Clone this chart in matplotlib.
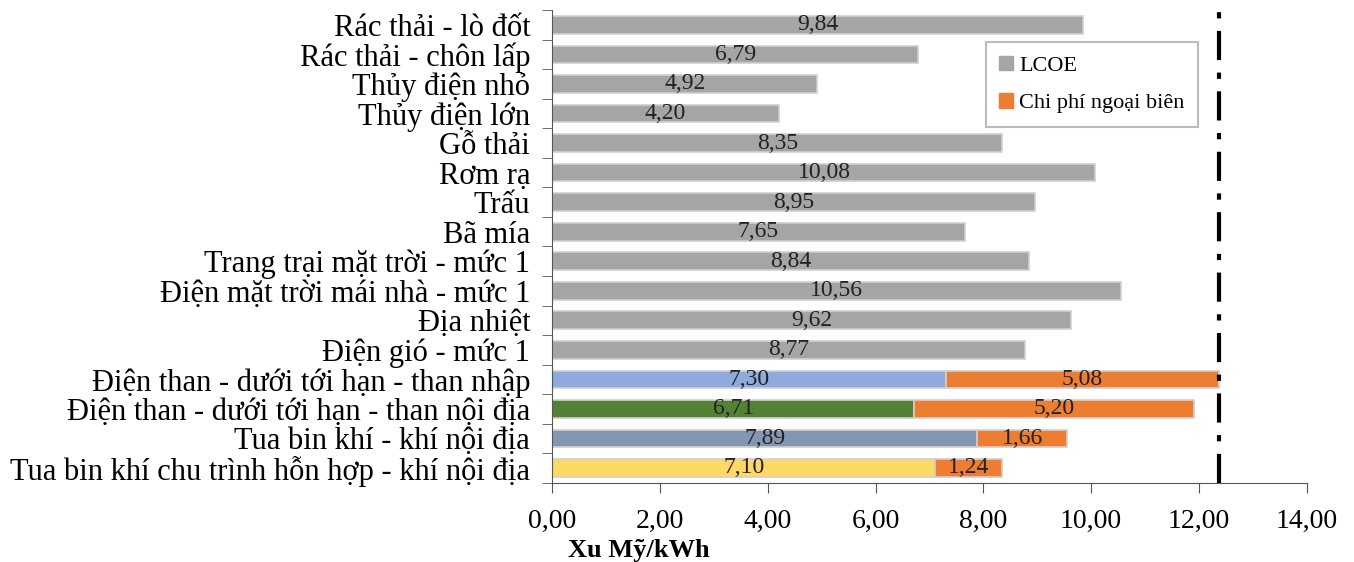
import numpy as np
import matplotlib.pyplot as plt

plt.rcParams['font.family'] = ['Liberation Serif', 'DejaVu Serif']

categories = ["Rác thải - lò đốt", "Rác thải - chôn lấp", "Thủy điện nhỏ", "Thủy điện lớn",
              "Gỗ thải", "Rơm rạ", "Trấu", "Bã mía", "Trang trại mặt trời - mức 1",
              "Điện mặt trời mái nhà - mức 1", "Địa nhiệt", "Điện gió - mức 1",
              "Điện than - dưới tới hạn - than nhập", "Điện than - dưới tới hạn - than nội địa",
              "Tua bin khí - khí nội địa", "Tua bin khí chu trình hỗn hợp - khí nội địa"]
lcoe = [9.84, 6.79, 4.92, 4.20, 8.35, 10.08, 8.95, 7.65, 8.84, 10.56, 9.62, 8.77,
        7.30, 6.71, 7.89, 7.10]
external = [0, 0, 0, 0, 0, 0, 0, 0, 0, 0, 0, 0, 5.08, 5.20, 1.66, 1.24]
lcoe_colors = ["#A5A5A5"] * 12 + ["#8FAADC", "#548235", "#8497B0", "#FFD966"]
ext_color = "#ED7D31"
limit = 12.38

fig = plt.figure(figsize=(13.54, 5.62), dpi=100)
ax = fig.add_axes([0.408, 0.141, 0.557, 0.841])

y = np.arange(len(categories))
ax.barh(y, lcoe, height=0.6, color=lcoe_colors, edgecolor="#D0D0D0", linewidth=1.2)
ext = np.array(external)
ax.barh(y[ext > 0], ext[ext > 0], left=np.array(lcoe)[ext > 0], height=0.6,
        color=ext_color, edgecolor="#D0D0D0", linewidth=1.2)

def fmt(v):
    return ("%.2f" % v).replace(".", ",")

for i in range(len(categories)):
    ax.text(lcoe[i] / 2, y[i], fmt(lcoe[i]), ha="center", va="center", fontsize=17, color="#222222")
    if external[i] > 0:
        ax.text(lcoe[i] + external[i] / 2, y[i], fmt(external[i]), ha="center", va="center",
                fontsize=17, color="#222222")

ax.axvline(limit, color="black", linestyle=(0, (7, 3, 1.5, 3)), linewidth=3)

ax.set_ylim(len(categories) - 0.5, -0.5)
ax.set_xlim(0, 14)
ax.set_xticks(np.arange(0, 15, 2))
ax.set_xticklabels([fmt(v) for v in np.arange(0, 15, 2)], fontsize=20)
ax.set_yticks(y)
ax.set_yticklabels(categories, fontsize=22)
ax.set_yticks(np.arange(-0.5, len(categories), 1), minor=True)
ax.tick_params(axis="y", which="major", length=0, pad=16)
ax.tick_params(axis="y", which="minor", length=7, color="#555555")
ax.tick_params(axis="x", length=7, color="#555555", pad=12)
for s in ["top", "right"]:
    ax.spines[s].set_visible(False)
ax.spines["left"].set_color("#555555")
ax.spines["bottom"].set_color("#555555")

ax.set_xlabel("Xu Mỹ/kWh", fontsize=19, fontweight="bold")
ax.xaxis.set_label_coords(0.115, -0.12)

h1 = plt.Rectangle((0, 0), 1, 1, color="#A5A5A5")
h2 = plt.Rectangle((0, 0), 1, 1, color=ext_color)
leg = ax.legend([h1, h2], ["LCOE", "Chi phí ngoại biên"], loc="upper left",
                bbox_to_anchor=(0.56, 0.955), fontsize=16, frameon=True, fancybox=False,
                labelspacing=0.8, handlelength=0.6, handleheight=0.6, handletextpad=0.3,
                borderpad=0.6)
leg.get_frame().set_edgecolor("#AAAAAA")
leg.get_frame().set_linewidth(1.5)

fig.savefig("out.png")
